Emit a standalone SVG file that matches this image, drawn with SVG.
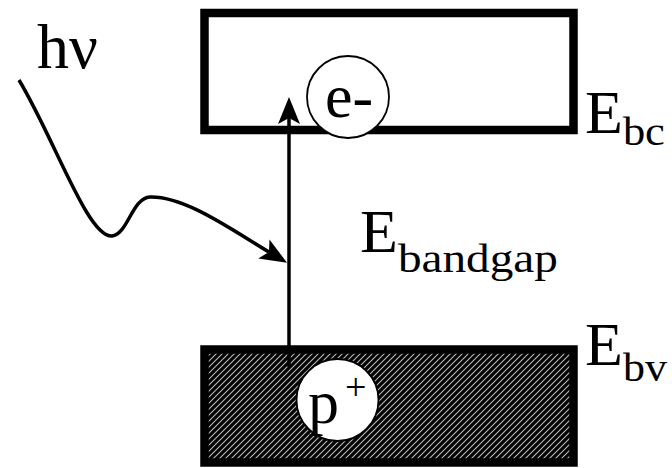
<svg xmlns="http://www.w3.org/2000/svg" width="672" height="468" viewBox="0 0 672 468">
<style>
  .band { stroke: #000; stroke-width: 8.5; }
  .lbl { font-family: 'Liberation Serif', 'Times New Roman', serif; fill: #000; }
  .big { font-size: 62px; }
  .sub { font-size: 40px; }
  .ball { fill: #fff; stroke: #000; stroke-width: 1.8; }
  .conn { fill: none; stroke: #000; stroke-width: 3.5; }
</style>
<defs>
  <pattern id="hatch" patternUnits="userSpaceOnUse" width="6" height="6">
    <rect width="6" height="6" fill="#000"/>
    <path d="M-1.5,1.5 L1.5,-1.5 M0,6 L6,0 M4.5,7.5 L7.5,4.5" stroke="#bbb" stroke-width="1.1"/>
  </pattern>
  <marker id="arrow" markerUnits="userSpaceOnUse" viewBox="-28 -13 30 26" refX="-21" refY="0" markerWidth="30" markerHeight="26" orient="auto">
    <path d="M0,0 L-27,-11 L-21,0 L-27,11 Z" fill="#000"/>
  </marker>
</defs>

<g id="conduction-band">
  <rect class="band" x="204.5" y="13" width="369" height="117" fill="#fff"/>
  <text class="lbl big" x="585" y="133">E<tspan class="sub" dy="12" textLength="42" lengthAdjust="spacingAndGlyphs">bc</tspan></text>
</g>

<g id="valence-band">
  <rect class="band" x="204.5" y="349.5" width="369" height="113" fill="url(#hatch)"/>
  <text class="lbl big" x="585" y="365">E<tspan class="sub" dy="16" textLength="44" lengthAdjust="spacingAndGlyphs">bv</tspan></text>
</g>

<g id="bandgap-label">
  <text class="lbl big" x="360" y="252">E<tspan class="sub" dy="20" textLength="160" lengthAdjust="spacingAndGlyphs">bandgap</tspan></text>
</g>

<g id="photon-label">
  <text class="lbl" x="37" y="68" font-size="64">hν</text>
</g>

<g id="connectors">
  <path class="conn" d="M289,367 L289,118" marker-end="url(#arrow)"/>
  <path class="conn" d="M19,80 C55,140 88,238 112,236 C128,234 132,198 150,197 C185,196 232,230 269,252" marker-end="url(#arrow)" stroke-width="2.2"/>
</g>

<g id="electron">
  <circle class="ball" cx="348" cy="97" r="41"/>
  <text class="lbl big" x="349" y="117" text-anchor="middle">e-</text>
</g>

<g id="hole">
  <circle class="ball" cx="337.5" cy="400" r="41"/>
  <text class="lbl big" x="308" y="423">p</text>
  <text class="lbl" x="345" y="400" font-size="38">+</text>
</g>
</svg>
